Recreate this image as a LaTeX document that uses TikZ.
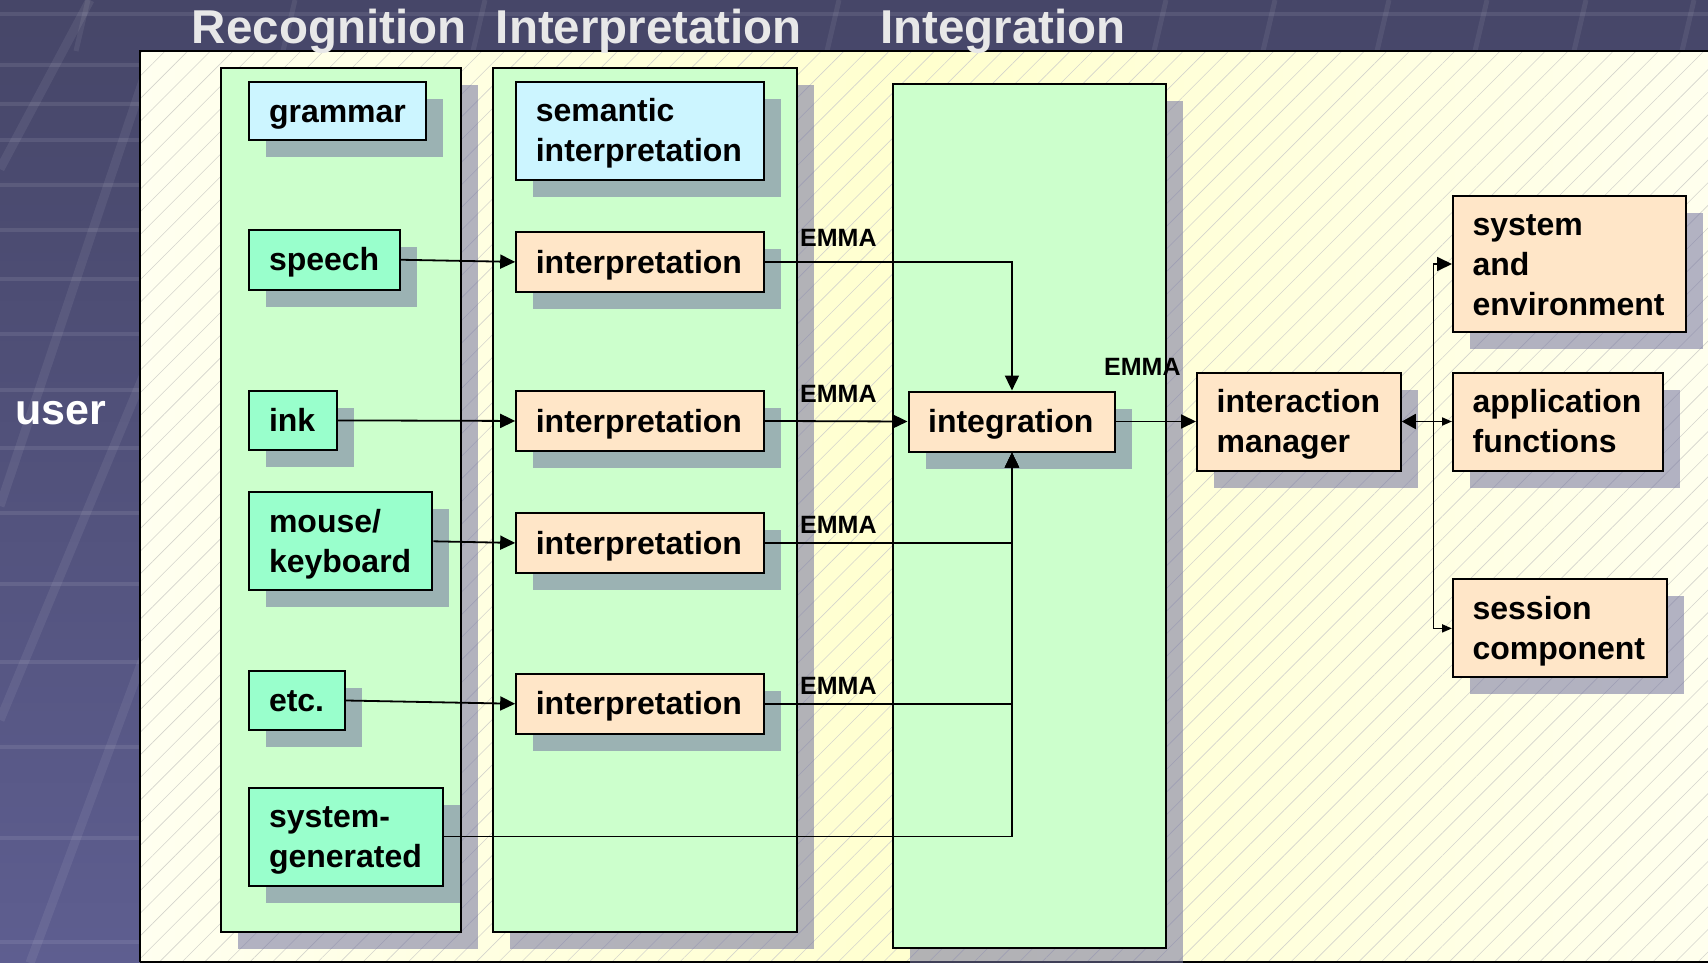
\documentclass[tikz,border=0pt]{standalone}
\usepackage{fontspec}
\setmainfont{Liberation Sans}
\usetikzlibrary{arrows.meta,shadows,patterns.meta}

\definecolor{bgtop}{RGB}{70,70,104}
\definecolor{bgbot}{RGB}{94,94,144}
\definecolor{panelL}{RGB}{255,255,240}
\definecolor{panelM}{RGB}{255,255,206}
\definecolor{panelR}{RGB}{255,255,238}
\definecolor{hatchc}{RGB}{212,212,204}
\definecolor{colg}{RGB}{204,255,204}
\definecolor{cyanb}{RGB}{204,245,255}
\definecolor{aquab}{RGB}{153,255,204}
\definecolor{peachb}{RGB}{255,230,200}
\definecolor{shadc}{RGB}{115,115,160}
\definecolor{ttlc}{RGB}{232,232,232}

\newcommand\boxfont{\fontsize{32}{40}\selectfont\bfseries}
\newcommand\bstrut{\rule[-6.8pt]{0pt}{35.8pt}}

\begin{document}
\begin{tikzpicture}[x=1pt,y=-1pt,
  shd/.style={drop shadow={shadow xshift=17pt,shadow yshift=-17pt,fill=shadc,opacity=.55}},
  col/.style={shd,draw=black,line width=2pt,fill=colg,anchor=north west,inner sep=0pt},
  bx/.style={shd,draw=black,line width=2pt,anchor=north west,inner xsep=19.6pt,inner ysep=0pt,
    align=left,font=\boxfont,execute at begin node=\bstrut,execute at end node=\bstrut},
  emma/.style={anchor=base west,inner sep=0pt,font=\fontsize{25}{30}\selectfont\bfseries},
  ttl/.style={anchor=base west,inner sep=0pt,text=ttlc,font=\fontsize{47.5}{55}\selectfont\bfseries},
  conn/.style={line width=1.8pt,-{Triangle[length=15pt,width=14pt]}},
  smalltip/.style={line width=1.8pt,-{Triangle[length=10pt,width=8pt]}},
  band/.style={white,opacity=.09,line width=4pt},
  dband/.style={white,opacity=.07,line width=9pt},
]
\useasboundingbox (0,0) rectangle (1708,963);

% background
\shade[top color=bgtop,bottom color=bgbot] (0,0) rectangle (1708,963);
\foreach \yy in {14,65,104,140,185,230,279,334,390,448,513,584,662,747,838,942}
  \draw[band] (0,\yy) -- (1708,\yy);
\draw[dband] (90,0) -- (0,169);
\draw[dband] (150,60) -- (0,506);
\draw[dband] (150,360) -- (0,720);
\draw[dband] (150,640) -- (30,963);
\foreach \xx in {82,289,479,833,1160,1269,1383,1481,1580,1688}
  \draw[white,opacity=.07,line width=5pt] (\xx+6,0) -- (\xx-6,51);

% panel
\fill[left color=panelL,right color=panelR,middle color=panelM] (140,51) rectangle (1712,961.5);
\fill[pattern={Lines[angle=45,distance=16pt,line width=0.6pt]},pattern color=hatchc] (140,51) rectangle (1712,961.5);
\draw[line width=2pt] (140,961.5) -- (140,51) -- (1712,51);
\draw[line width=2pt] (140,961.5) -- (1712,961.5);

% titles and user
\node[ttl] (trec) at (191.7,44) {Recognition};
\node[ttl] (tint) at (495.6,44) {Interpretation};
\node[ttl] (tintg) at (880,44) {Integration};
\node[anchor=base west,inner sep=0pt,text=white,font=\fontsize{43}{50}\selectfont\bfseries] (user) at (15,424) {user};

% columns
\node[col,minimum width=239.7pt,minimum height=863.5pt] (colrec) at (220,67.5) {};
\node[col,minimum width=303.9pt,minimum height=863.5pt] (colint) at (492.4,67.5) {};
\node[col,minimum width=272.5pt,minimum height=863.8pt] (colintg) at (892,82.8) {};

% recognition boxes
\node[bx,fill=cyanb,text width=137.2pt,minimum height=58.8pt] (grammar) at (248.4,80.6) {grammar};
\node[bx,fill=aquab,text width=111.1pt,minimum height=59.9pt] (speech) at (248.4,228.8) {speech};
\node[bx,fill=aquab,text width=47.9pt,minimum height=58.8pt] (ink) at (248.4,390) {ink};
\node[bx,fill=aquab,text width=143.8pt,minimum height=98pt] (mouse) at (248.4,491.3) {mouse/\\keyboard};
\node[bx,fill=aquab,text width=56.6pt,minimum height=59pt] (etc) at (248.4,670) {etc.};
\node[bx,fill=aquab,text width=154.7pt,minimum height=98pt] (sysgen) at (248.4,786.5) {system-\\generated};

% interpretation boxes
\node[bx,fill=cyanb,text width=208.1pt,minimum height=98pt] (sem) at (515.2,80.6) {semantic\\interpretation};
\node[bx,fill=peachb,text width=208.1pt,minimum height=59.8pt] (i1) at (515.2,231) {interpretation};
\node[bx,fill=peachb,text width=208.1pt,minimum height=59.9pt] (i2) at (515.2,390) {interpretation};
\node[bx,fill=peachb,text width=208.1pt,minimum height=59.9pt] (i3) at (515.2,512) {interpretation};
\node[bx,fill=peachb,text width=208.1pt,minimum height=59.5pt] (i4) at (515.2,673) {interpretation};

% integration and right side
\node[bx,fill=peachb,text width=167.7pt,minimum height=60pt] (integ) at (907.5,390.5) {integration};
\node[bx,fill=peachb,text width=164.6pt,minimum height=98pt] (im) at (1196,371.5) {interaction\\manager};
\node[bx,fill=peachb,text width=193.8pt,minimum height=136pt] (sysenv) at (1452,195) {system\\and\\environment};
\node[bx,fill=peachb,text width=171.1pt,minimum height=98pt] (app) at (1452,371.5) {application\\functions};
\node[bx,fill=peachb,text width=174.3pt,minimum height=98pt] (session) at (1452,578.4) {session\\component};

% connectors
\draw[conn] (speech.east) -- (i1.west);
\draw[conn] (ink.east) -- (i2.west);
\draw[conn] (mouse.east) -- (i3.west);
\draw[conn] (etc.east) -- (i4.west);
\draw[conn] (i1.east) -| (integ.north);
\draw[conn] (i2.east) -- (integ.west);
\draw[conn] (i3.east) -| (integ.south);
\draw[conn] (i4.east) -| (integ.south);
\draw[conn] (sysgen.east) -| (integ.south);
\draw[conn] (integ.east) -- (im.west);
\coordinate (split) at (1433.5,420.5);
\draw[line width=1.8pt,{Triangle[length=14pt,width=15pt]}-{Triangle[length=10pt,width=8pt]}] (im.east) -- (app.west);
\draw[conn] (split) |- (sysenv.west);
\draw[smalltip] (split) |- (session.west);

% EMMA labels
\node[emma] (emma1) at (800,246.7) {EMMA};
\node[emma] (emma2) at (800,402.7) {EMMA};
\node[emma] (emma3) at (800,533.3) {EMMA};
\node[emma] (emma4) at (800,694.3) {EMMA};
\node[emma] (emma5) at (1104,375) {EMMA};
\end{tikzpicture}
\end{document}
